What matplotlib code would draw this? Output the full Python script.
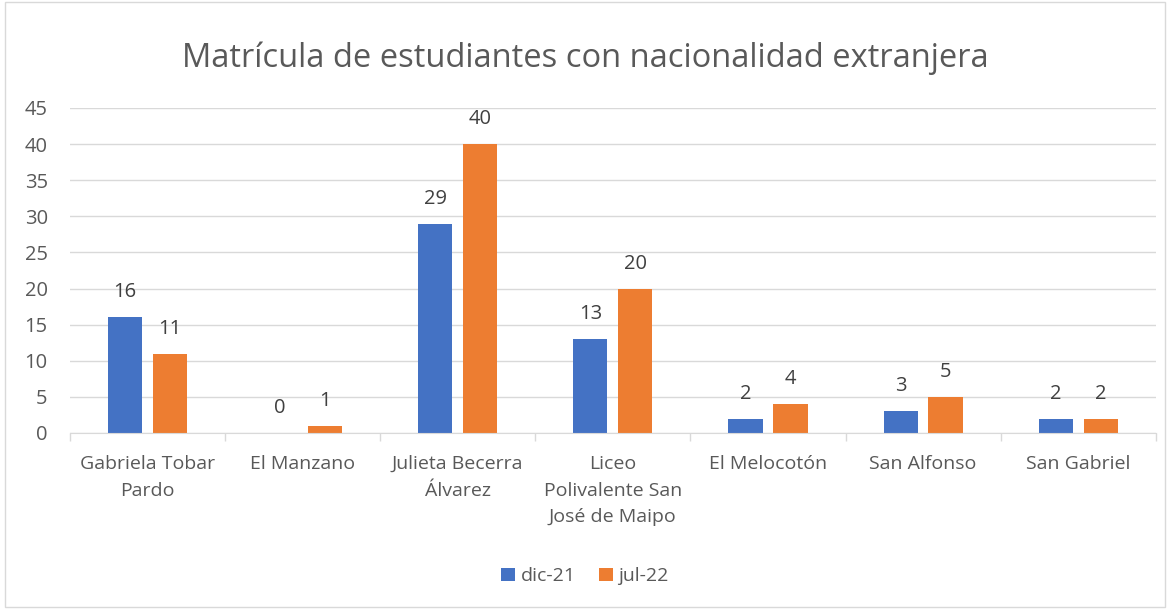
import numpy as np
import matplotlib.pyplot as plt
from matplotlib.patches import Rectangle

# data
schools = ['Gabriela Tobar\nPardo', 'El Manzano', 'Julieta Becerra\nÁlvarez',
           'Liceo\nPolivalente San\nJosé de Maipo', 'El Melocotón', 'San Alfonso', 'San Gabriel']
dic21 = [16, 0, 29, 13, 2, 3, 2]
jul22 = [11, 1, 40, 20, 4, 5, 2]
series_names = ['dic-21', 'jul-22']

plt.rcParams['font.family'] = ['Open Sans', 'DejaVu Sans']
txt = '#595959'

fig = plt.figure(figsize=(11.7, 6.09), dpi=100)
ax = fig.add_axes([0.0598, 0.289, 0.928, 0.5337])

x = np.arange(len(schools))
w = 0.22
off = 0.145
b1 = ax.bar(x - off, dic21, w, color='#4472C4', label=series_names[0], zorder=3)
b2 = ax.bar(x + off, jul22, w, color='#ED7D31', label=series_names[1], zorder=3)

for bars, vals in [(b1, dic21), (b2, jul22)]:
    for b, v in zip(bars, vals):
        ax.annotate(str(v), (b.get_x() + b.get_width() / 2, v), xytext=(0, 18),
                    textcoords='offset points', ha='center', va='center',
                    fontsize=14.5, color='#404040')

ax.set_xlim(-0.5, len(schools) - 0.5)
ax.set_ylim(0, 45)
ax.set_yticks(range(0, 46, 5))
ax.yaxis.grid(True, color='#d9d9d9', linewidth=1, zorder=0)
ax.set_axisbelow(True)

ax.set_xticks(x)
ax.set_xticklabels(schools, fontsize=14, color=txt, linespacing=1.6)
ax.set_xticks(np.arange(-0.5, len(schools)), minor=True)
ax.tick_params(axis='x', which='major', length=0, pad=16)
ax.tick_params(axis='x', which='minor', length=6, color='#d9d9d9', width=1)
ax.tick_params(axis='y', length=0, labelsize=14.5, labelcolor=txt, pad=16)

for s in ['top', 'right', 'left']:
    ax.spines[s].set_visible(False)
ax.spines['bottom'].set_color('#d9d9d9')
ax.spines['bottom'].set_zorder(4)

fig.text(0.5, 0.905, 'Matrícula de estudiantes con nacionalidad extranjera',
         fontsize=23.5, color=txt, ha='center', va='center')

fig.legend(loc='center', bbox_to_anchor=(0.5, 0.054), ncol=2, frameon=False,
           fontsize=14, labelcolor=txt, handlelength=0.7, handleheight=0.7,
           handletextpad=0.3, columnspacing=1.2)

fig.patches.append(Rectangle((0.004, 0.003), 0.992, 0.994, transform=fig.transFigure,
                             fill=False, edgecolor='#d9d9d9', linewidth=1))

fig.savefig('out.png', dpi=100)
